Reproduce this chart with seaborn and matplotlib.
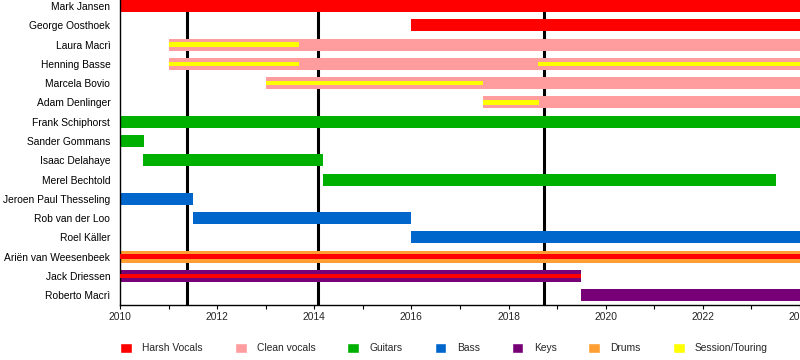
# Load libraries
import matplotlib
matplotlib.use('Agg')
import matplotlib.pyplot as plt
from matplotlib.patches import Patch
import seaborn as sns

# Band members, top to bottom
members = ['Mark Jansen', 'George Oosthoek', 'Laura Macrì', 'Henning Basse',
           'Marcela Bovio', 'Adam Denlinger', 'Frank Schiphorst', 'Sander Gommans',
           'Isaac Delahaye', 'Merel Bechtold', 'Jeroen Paul Thesseling',
           'Rob van der Loo', 'Roel Käller', 'Ariën van Weesenbeek',
           'Jack Driessen', 'Roberto Macrì']

# Main role bars
main_member = ['Mark Jansen', 'George Oosthoek', 'Laura Macrì', 'Henning Basse',
               'Marcela Bovio', 'Adam Denlinger', 'Frank Schiphorst', 'Sander Gommans',
               'Isaac Delahaye', 'Merel Bechtold', 'Jeroen Paul Thesseling',
               'Rob van der Loo', 'Roel Käller', 'Ariën van Weesenbeek',
               'Jack Driessen', 'Roberto Macrì']
main_role = ['Harsh Vocals', 'Harsh Vocals', 'Clean vocals', 'Clean vocals',
             'Clean vocals', 'Clean vocals', 'Guitars', 'Guitars', 'Guitars',
             'Guitars', 'Bass', 'Bass', 'Bass', 'Drums', 'Keys', 'Keys']
main_start = [2010.0, 2016.0, 2011.0, 2011.0, 2013.0, 2017.47, 2010.0, 2010.0,
              2010.48, 2014.17, 2010.0, 2011.5, 2016.0, 2010.0, 2010.0, 2019.5]
main_end = [2024.0, 2024.0, 2024.0, 2024.0, 2024.0, 2024.0, 2024.0, 2010.5,
            2014.17, 2023.5, 2011.5, 2016.0, 2024.0, 2024.0, 2019.5, 2024.0]

# Secondary role stripes (drawn thin inside the main bar)
extra_member = ['Laura Macrì', 'Henning Basse', 'Henning Basse', 'Marcela Bovio',
                'Adam Denlinger', 'Ariën van Weesenbeek', 'Jack Driessen']
extra_role = ['Session/Touring', 'Session/Touring', 'Session/Touring',
              'Session/Touring', 'Session/Touring', 'Harsh Vocals', 'Harsh Vocals']
extra_start = [2011.0, 2011.0, 2018.6, 2013.0, 2017.47, 2010.0, 2010.0]
extra_end = [2013.69, 2013.69, 2024.0, 2017.48, 2018.62, 2024.0, 2019.5]

# Album releases
albums = [2011.37, 2014.08, 2018.73]

roles = ['Harsh Vocals', 'Clean vocals', 'Guitars', 'Bass', 'Keys', 'Drums',
         'Session/Touring']
role_colors = {'Harsh Vocals': '#ff0000', 'Clean vocals': '#ff9c9e',
               'Guitars': '#00b000', 'Bass': '#0066cc', 'Keys': '#770077',
               'Drums': '#ff9e33', 'Session/Touring': '#ffff00'}

sns.set_theme(style='white')
plt.rcParams['font.family'] = ['Liberation Sans', 'DejaVu Sans']

fig = plt.figure(figsize=(8, 3.6), dpi=100)
ax = fig.add_axes([0.15, 0.1528, 0.85, 0.8573])

row = {name: i for i, name in enumerate(members)}

for x in albums:
    ax.axvline(x, color='black', lw=2.2, zorder=1)

ax.barh([row[m] for m in main_member],
        [e - s for s, e in zip(main_start, main_end)],
        left=main_start, height=0.62,
        color=[role_colors[r] for r in main_role], linewidth=0, zorder=2)

ax.barh([row[m] for m in extra_member],
        [e - s for s, e in zip(extra_start, extra_end)],
        left=extra_start, height=0.24,
        color=[role_colors[r] for r in extra_role], linewidth=0, zorder=3)

ax.set_xlim(2010, 2024)
ax.set_ylim(len(members) - 0.5, -0.5)
ax.set_yticks(range(len(members)))
ax.set_yticklabels(members, fontsize=7.4)
ax.set_xticks(range(2010, 2025, 2))
ax.set_xticks(range(2011, 2024, 2), minor=True)
ax.tick_params(axis='x', which='both', bottom=True, direction='out',
               length=3, width=0.8, color='black', labelsize=7.4, pad=2)
ax.tick_params(axis='y', length=0, pad=7, labelcolor='black')

sns.despine(ax=ax, top=True, right=True)
for side in ['left', 'bottom']:
    ax.spines[side].set_color('black')
    ax.spines[side].set_linewidth(1.0)

handles = [Patch(facecolor=role_colors[r], label=r) for r in roles]
fig.legend(handles=handles, loc='center', ncol=7, frameon=False,
           bbox_to_anchor=(0.555, 0.033), fontsize=7.4,
           handlelength=1.15, handleheight=1.15, handletextpad=1.0,
           columnspacing=3.1)

fig.savefig('out.png', dpi=100)
